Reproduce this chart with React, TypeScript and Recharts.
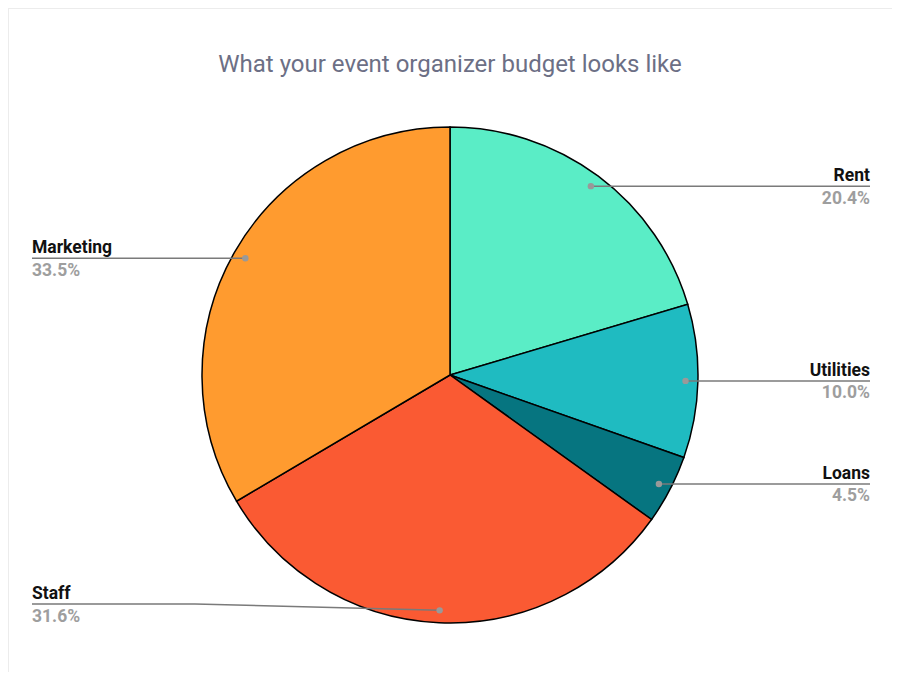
import * as React from "react";
import { Cell, Pie, PieChart } from "recharts";

// budget split, clockwise from 12 o'clock
const categories = ["Rent", "Utilities", "Loans", "Staff", "Marketing"];
const shares = [20.4, 10.0, 4.5, 31.6, 33.5];
const colors = ["#5aedc6", "#1fbbc1", "#067580", "#fa5a33", "#ff9b2f"];

const data = categories.map((name, i) => ({ name, value: shares[i] }));

const RAD = Math.PI / 180;
const LEFT_X = 32;
const RIGHT_X = 870;

type LabelProps = {
  cx?: number;
  cy?: number;
  midAngle?: number;
  outerRadius?: number;
  name?: string;
  value?: number;
};

function SliceLabel({ cx = 0, cy = 0, midAngle = 0, outerRadius = 0, name, value }: LabelProps) {
  const r = outerRadius * 0.95;
  const px = cx + r * Math.cos(-midAngle * RAD);
  const py = cy + r * Math.sin(-midAngle * RAD);
  const right = px >= cx;
  // keep labels inside the pie's vertical band, bend the leader if needed
  const ly = Math.max(Math.min(py, cy + outerRadius - 19), cy - outerRadius + 19);
  const tx = right ? RIGHT_X : LEFT_X;
  const kneeX = right ? RIGHT_X - 163 : LEFT_X + 163;
  const path =
    ly === py
      ? `M${px},${py}L${tx},${ly}`
      : `M${px},${py}L${kneeX},${ly}L${tx},${ly}`;
  const anchor = right ? "end" : "start";
  return (
    <g>
      <path d={path} stroke="#7a7a7a" strokeWidth={1.5} fill="none" />
      <circle cx={px} cy={py} r={3.2} fill="#999" />
      <text
        x={tx}
        y={ly - 5}
        textAnchor={anchor}
        fontFamily="Roboto, sans-serif"
        fontWeight={700}
        fontSize={17.5}
        fill="#111"
      >
        {name}
      </text>
      <text
        x={tx}
        y={ly + 17.5}
        textAnchor={anchor}
        fontFamily="Roboto, sans-serif"
        fontWeight={700}
        fontSize={17.5}
        fill="#9e9e9e"
      >
        {`${Number(value).toFixed(1)}%`}
      </text>
    </g>
  );
}

export default function App() {
  return (
    <div style={{ position: "relative", width: 900, height: 680, margin: -8, background: "#fff" }}>
      <div
        style={{
          position: "absolute",
          left: 8,
          top: 8,
          width: 885,
          height: 666,
          border: "1px solid #ececec",
        }}
      />
      <div
        style={{
          position: "absolute",
          left: 0,
          top: 49,
          width: 900,
          textAlign: "center",
          fontFamily: "Roboto, sans-serif",
          fontSize: 24,
          lineHeight: "30px",
          color: "#6c6f85",
        }}
      >
        What your event organizer budget looks like
      </div>
      <div style={{ position: "absolute", left: 0, top: 0 }}>
        <PieChart width={900} height={680} margin={{ top: 0, right: 0, bottom: 0, left: 0 }}>
          <Pie
            data={data}
            dataKey="value"
            nameKey="name"
            cx={450}
            cy={375}
            outerRadius={248}
            startAngle={90}
            endAngle={-270}
            stroke="#000"
            strokeWidth={1.5}
            labelLine={false}
            label={(p: LabelProps) => <SliceLabel {...p} />}
            isAnimationActive={false}
          >
            {data.map((d, i) => (
              <Cell key={d.name} fill={colors[i]} />
            ))}
          </Pie>
        </PieChart>
      </div>
    </div>
  );
}
